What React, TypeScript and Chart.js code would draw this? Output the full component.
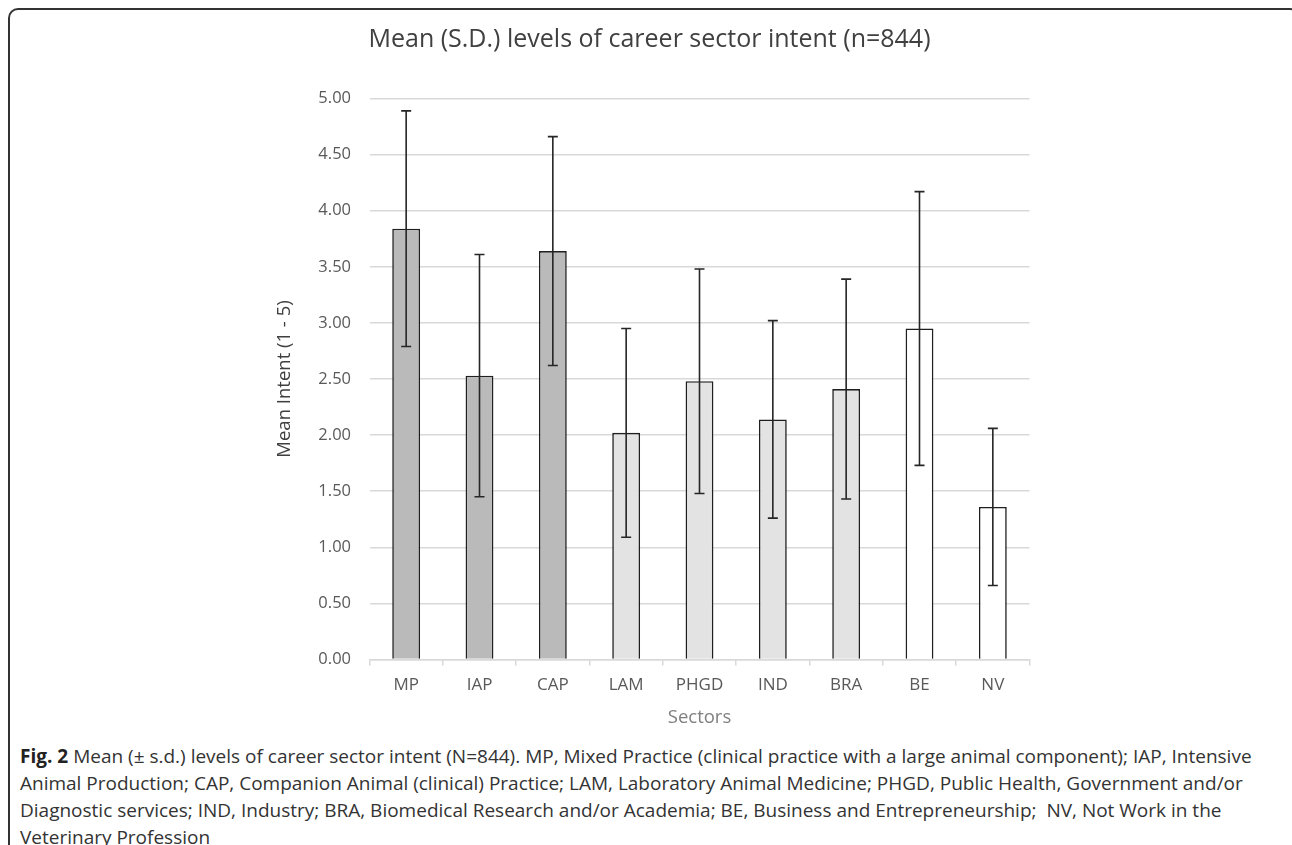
import React, { useEffect, useRef } from "react";
import { Chart, registerables } from "chart.js";

Chart.register(...registerables);

const sectors = ["MP", "IAP", "CAP", "LAM", "PHGD", "IND", "BRA", "BE", "NV"];
const meanIntent = [3.84, 2.53, 3.64, 2.02, 2.48, 2.14, 2.41, 2.95, 1.36];
const sdIntent = [1.05, 1.08, 1.02, 0.93, 1.0, 0.88, 0.98, 1.22, 0.7];
const sectorGroup = [0, 0, 0, 1, 1, 1, 1, 2, 2];
const yMin = 0;
const yMax = 5;
const yStep = 0.5;

const groupFill = ["#bababa", "#e3e3e3", "#ffffff"];
const FONT = "'Open Sans', 'Noto Sans', sans-serif";

const errorBarPlugin = {
  id: "errorBars",
  afterDatasetsDraw(chart: any) {
    const meta = chart.getDatasetMeta(0);
    const yScale = chart.scales.y;
    const ctx = chart.ctx;
    ctx.save();
    ctx.strokeStyle = "#262626";
    ctx.lineWidth = 1.6;
    meta.data.forEach((bar: any, i: number) => {
      const x = bar.x;
      const top = yScale.getPixelForValue(meanIntent[i] + sdIntent[i]);
      const bot = yScale.getPixelForValue(meanIntent[i] - sdIntent[i]);
      const cap = 5;
      ctx.beginPath();
      ctx.moveTo(x, top);
      ctx.lineTo(x, bot);
      ctx.moveTo(x - cap, top);
      ctx.lineTo(x + cap, top);
      ctx.moveTo(x - cap, bot);
      ctx.lineTo(x + cap, bot);
      ctx.stroke();
    });
    ctx.restore();
  },
};

function BarChart() {
  const ref = useRef<HTMLCanvasElement | null>(null);
  useEffect(() => {
    if (!ref.current) return;
    const chart = new Chart(ref.current, {
      type: "bar",
      data: {
        labels: sectors,
        datasets: [
          {
            data: meanIntent,
            backgroundColor: sectorGroup.map((g) => groupFill[g]),
            borderColor: "#1f1f1f",
            borderWidth: 1.6,
            barPercentage: 0.38,
            categoryPercentage: 1,
          },
        ],
      },
      options: {
        animation: false,
        responsive: true,
        maintainAspectRatio: false,
        layout: { padding: { left: 269.5, right: 262.5, top: 0, bottom: 10.9 } },
        plugins: {
          legend: { display: false },
          tooltip: { enabled: false },
          title: {
            display: true,
            text: "Mean (S.D.) levels of career sector intent (n=844)",
            color: "#404040",
            font: { family: FONT, size: 25, weight: "normal" },
            padding: { top: 25, bottom: 43.5 },
          },
        },
        scales: {
          x: {
            grid: {
              offset: true,
              drawOnChartArea: false,
              drawTicks: true,
              tickLength: 6,
              color: "#d9d9d9",
              lineWidth: 1.5,
            },
            border: { display: true, color: "#d9d9d9", width: 1.5 },
            ticks: {
              color: "#595959",
              font: { family: FONT, size: 17 },
              padding: 9.3,
            },
            title: {
              display: true,
              text: "Sectors",
              color: "#808080",
              font: { family: FONT, size: 18.5 },
              padding: { top: 2.4, bottom: 0 },
            },
          },
          y: {
            min: yMin,
            max: yMax,
            afterFit: (scale: any) => {
              scale.width = 100;
            },
            grid: { drawTicks: false, color: "#d9d9d9", lineWidth: 1.5 },
            border: { display: false },
            ticks: {
              stepSize: yStep,
              color: "#595959",
              font: { family: FONT, size: 16.5 },
              padding: 18.5,
              callback: (v: any) => Number(v).toFixed(2),
            },
            title: {
              display: true,
              text: "Mean Intent (1 - 5)",
              color: "#404040",
              font: { family: FONT, size: 18.5 },
              padding: { top: 4.4, bottom: 0 },
            },
          },
        },
      },
      plugins: [errorBarPlugin],
    });
    return () => chart.destroy();
  }, []);
  return (
    <div style={{ position: "absolute", left: 0, top: 0, width: 1292, height: 740 }}>
      <canvas ref={ref} />
    </div>
  );
}

export default function App() {
  const lines = [
    "Mean (\u00b1 s.d.) levels of career sector intent (N=844). MP, Mixed Practice (clinical practice with a large animal component); IAP, Intensive",
    "Animal Production; CAP, Companion Animal (clinical) Practice; LAM, Laboratory Animal Medicine; PHGD, Public Health, Government and/or",
    "Diagnostic services; IND, Industry; BRA, Biomedical Research and/or Academia; BE, Business and Entrepreneurship;\u00a0 NV, Not Work in the",
    "Veterinary Profession",
  ];
  return (
    <div style={{ position: "fixed", inset: 0, overflow: "hidden", background: "#fff" }}>
      <div
        style={{
          position: "absolute",
          left: 8,
          top: 8,
          width: 1292,
          height: 900,
          border: "2px solid #333",
          borderRadius: 10,
          boxSizing: "border-box",
        }}
      />
      <BarChart />
      <div
        style={{
          position: "absolute",
          left: 20,
          top: 742.5,
          fontFamily: FONT,
          fontSize: 19,
          lineHeight: "27px",
          color: "#333",
          whiteSpace: "nowrap",
        }}
      >
        {lines.map((t, i) => (
          <div key={i}>
            {i === 0 ? <b style={{ color: "#222" }}>Fig. 2 </b> : null}
            {t}
          </div>
        ))}
      </div>
    </div>
  );
}
